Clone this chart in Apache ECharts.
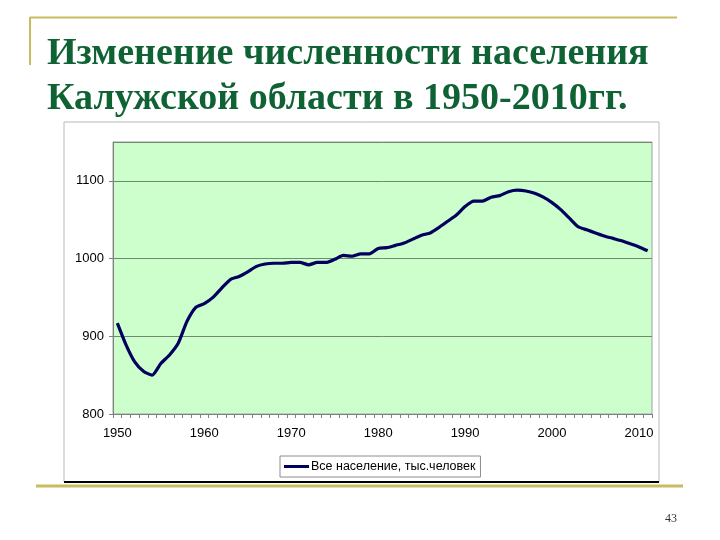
<!DOCTYPE html>
<html>
<head>
<meta charset="utf-8">
<script src="https://cdn.jsdelivr.net/npm/echarts@6/dist/echarts.min.js"></script>
<style>
html,body{margin:0;padding:0;background:#fff;}
#c{width:720px;height:540px;}
</style>
</head>
<body>
<div id="c"></div>
<script>
var years = [];
for (var y = 1950; y <= 2011; y++) years.push(String(y));

var population = [
  917, 889, 867, 855, 850, 865, 876, 891, 919, 937,
  942, 950, 962, 973, 977, 983, 990, 993, 994, 994,
  995, 995, 992, 995, 995, 999, 1004, 1003, 1006, 1006,
  1013, 1014, 1017, 1020, 1025, 1030, 1033, 1040, 1048, 1056,
  1067, 1074, 1074, 1079, 1081, 1086, 1088, 1087, 1084, 1079,
  1072, 1063, 1052, 1041, 1037, 1033, 1029, 1026, 1023, 1019,
  1015, 1010
];

var seriesName = 'Все население, тыс.человек';
var titleText = 'Изменение численности населения\nКалужской области в 1950-2010гг.';
var pageNumber = '43';

var chart = echarts.init(document.getElementById('c'));
chart.setOption({
  backgroundColor: '#ffffff',
  animation: false,
  title: {
    text: titleText,
    left: 42,
    top: 27,
    textStyle: {
      fontFamily: 'Liberation Serif',
      fontWeight: 'bold',
      fontSize: 38,
      lineHeight: 45,
      color: '#0f6234'
    }
  },
  graphic: [
    { type: 'rect', z: -10, shape: { x: 64, y: 122, width: 595, height: 360 },
      style: { fill: '#ffffff', stroke: '#b8b8b8', lineWidth: 1 } },
    { type: 'line', shape: { x1: 64, y1: 482, x2: 659, y2: 482 },
      style: { stroke: '#000000', lineWidth: 2 } },
    { type: 'line', shape: { x1: 36, y1: 486, x2: 683, y2: 486 },
      style: { stroke: '#c9bb62', lineWidth: 3 } },
    { type: 'line', shape: { x1: 30, y1: 17.5, x2: 677, y2: 17.5 },
      style: { stroke: '#c9bb62', lineWidth: 2 } },
    { type: 'line', shape: { x1: 30, y1: 17, x2: 30, y2: 65 },
      style: { stroke: '#c9bb62', lineWidth: 2 } },
    { type: 'text', x: 671, y: 519,
      style: { text: pageNumber, fontFamily: 'Liberation Serif', fontSize: 12,
        fill: '#333333', align: 'center', verticalAlign: 'middle' } }
  ],
  grid: {
    left: 113, right: 68, top: 142, bottom: 126,
    show: true, backgroundColor: '#ccffcc', borderColor: '#a0a0a0', borderWidth: 1
  },
  legend: {
    data: [seriesName],
    left: 280, top: 456,
    itemWidth: 25, itemHeight: 3, icon: 'rect', itemGap: 2,
    padding: [4, 5, 4, 4],
    borderColor: '#8c8c8c', borderWidth: 1, backgroundColor: '#ffffff',
    textStyle: { fontFamily: 'Liberation Sans', fontSize: 12.5, color: '#000000', padding: [0, 0, 0, -3] }
  },
  xAxis: {
    type: 'category',
    data: years,
    boundaryGap: true,
    axisLine: { lineStyle: { color: '#808080', width: 1 } },
    axisTick: { show: true, interval: 0, length: 4, lineStyle: { color: '#808080' } },
    axisLabel: { interval: 9, margin: 13, fontFamily: 'Liberation Sans', fontSize: 13, color: '#000000' },
    splitLine: { show: false }
  },
  yAxis: {
    type: 'value',
    min: 800, max: 1150, interval: 100,
    axisLine: { show: true, lineStyle: { color: '#808080', width: 1 } },
    axisTick: { show: true, length: 4, lineStyle: { color: '#808080' } },
    axisLabel: {
      showMaxLabel: false, margin: 9, fontFamily: 'Liberation Sans', fontSize: 13, color: '#000000',
      formatter: function (v) { return String(v); }
    },
    splitLine: { show: true, lineStyle: { color: '#6f8a6f', width: 1 } }
  },
  series: [{
    name: seriesName,
    type: 'line',
    data: population,
    symbol: 'none',
    smooth: 0.2,
    lineStyle: { color: '#00005e', width: 3.2 },
    itemStyle: { color: '#00005e' }
  }]
});
</script>
</body>
</html>
